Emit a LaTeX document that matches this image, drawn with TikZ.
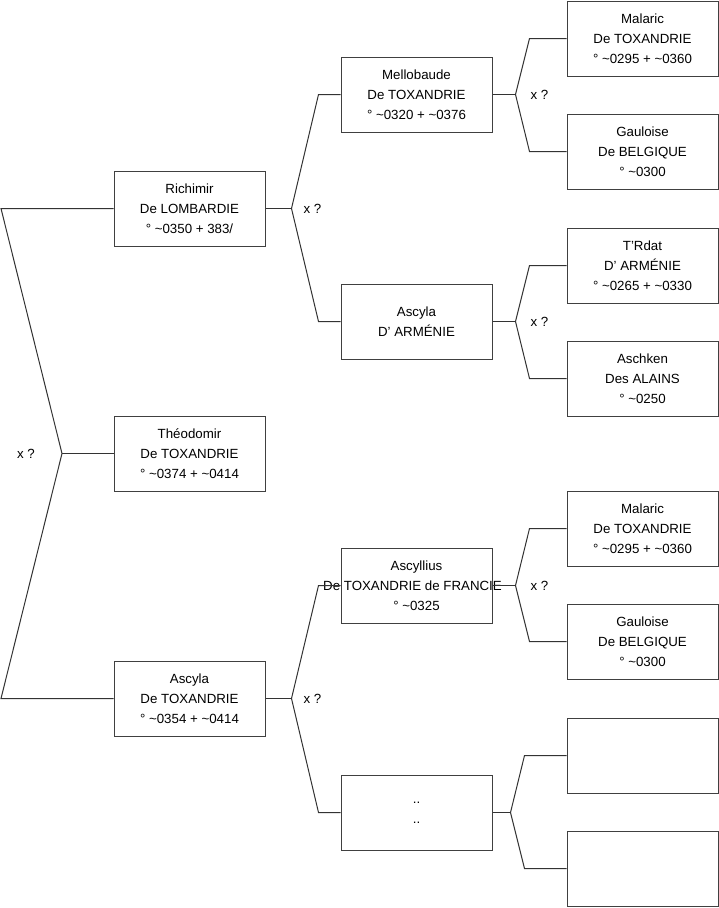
\documentclass[tikz,border=0pt]{standalone}
\usepackage{fontspec}
\setmainfont{Liberation Sans}
\usetikzlibrary{positioning, calc}

\begin{document}
\begin{tikzpicture}[
  x=1pt, y=-1pt,
  box/.style={draw=black!75, line width=1pt, fill=white,
              minimum width=151pt, minimum height=75pt, align=center,
              inner sep=0pt, font=\fontsize{13.3}{20}\selectfont},
  link/.style={draw=black!80, line width=1pt},
  lbl/.style={font=\fontsize{13.3}{15}\selectfont}
]
\useasboundingbox (0,0) rectangle (719,908);

% first column
\node[box] (ri) at (189.5,208.5) {Richimir\\De LOMBARDIE\\° \textasciitilde0350 + 383/};
\node[box] (th) at (189.5,453.5) {Théodomir\\De TOXANDRIE\\° \textasciitilde0374 + \textasciitilde0414};
\node[box] (as) at (189.5,698.5) {Ascyla\\De TOXANDRIE\\° \textasciitilde0354 + \textasciitilde0414};

% second column
\node[box] (mel) at (416.5,94.5) {Mellobaude\\De TOXANDRIE\\° \textasciitilde0320 + \textasciitilde0376};
\node[box] (arm) at (416.5,321.5) {Ascyla\\D' ARMÉNIE};
\node[box] (asc) at (416.5,585.5) {Ascyllius\\\makebox[0pt]{De TOXANDRIE de FRANCIE\hspace*{8pt}}\\° \textasciitilde0325};
\node[box] (dd) at (416.5,812.5) {..\\..};

% third column
\node[box] (mal1) at (642.5,38.5) {Malaric\\De TOXANDRIE\\° \textasciitilde0295 + \textasciitilde0360};
\node[box] (gau1) at (642.5,151.5) {Gauloise\\De BELGIQUE\\° \textasciitilde0300};
\node[box] (trd) at (642.5,265.5) {T'Rdat\\D' ARMÉNIE\\° \textasciitilde0265 + \textasciitilde0330};
\node[box] (ach) at (642.5,378.5) {Aschken\\Des ALAINS\\° \textasciitilde0250};
\node[box] (mal2) at (642.5,528.5) {Malaric\\De TOXANDRIE\\° \textasciitilde0295 + \textasciitilde0360};
\node[box] (gau2) at (642.5,641.5) {Gauloise\\De BELGIQUE\\° \textasciitilde0300};
\node[box] (e1) at (642.5,755.5) {};
\node[box] (e2) at (642.5,868.5) {};

% left bracket
\coordinate (j0) at (62,453.5);
\coordinate (f0) at (1,208.5);
\coordinate (m0) at (1,698.5);
\draw[link] (ri.west) -- (f0) -- (j0) -- (m0) -- (as.west);
\draw[link] (j0) -- (th.west);
\node[lbl] at ($(j0)+(-36,0)$) {x ?};

% Richimir
\draw[link] (ri.east) -- ++(26,0) coordinate (j1);
\draw[link] (mel.west) -- ++(-22,0) -- (j1) -- ([xshift=-22pt]arm.west) -- (arm.west);
\node[lbl] at ($(j1)+(21,0)$) {x ?};

% Ascyla
\draw[link] (as.east) -- ++(26,0) coordinate (j4);
\draw[link] (asc.west) -- ++(-22,0) -- (j4) -- ([xshift=-22pt]dd.west) -- (dd.west);
\node[lbl] at ($(j4)+(21,0)$) {x ?};

% Mellobaude
\draw[link] (mel.east) -- ++(23,0) coordinate (j2);
\draw[link] (mal1.west) -- ++(-37,0) -- (j2) -- ([xshift=-37pt]gau1.west) -- (gau1.west);
\node[lbl] at ($(j2)+(24,0)$) {x ?};

% Ascyla d'Armenie
\draw[link] (arm.east) -- ++(23,0) coordinate (j3);
\draw[link] (trd.west) -- ++(-37,0) -- (j3) -- ([xshift=-37pt]ach.west) -- (ach.west);
\node[lbl] at ($(j3)+(24,0)$) {x ?};

% Ascyllius
\draw[link] (asc.east) -- ++(23,0) coordinate (j5);
\draw[link] (mal2.west) -- ++(-37,0) -- (j5) -- ([xshift=-37pt]gau2.west) -- (gau2.west);
\node[lbl] at ($(j5)+(24,0)$) {x ?};

% ..
\draw[link] (dd.east) -- ++(18,0) coordinate (j6);
\draw[link] (e1.west) -- ++(-42,0) -- (j6) -- ([xshift=-42pt]e2.west) -- (e2.west);
\end{tikzpicture}
\end{document}
